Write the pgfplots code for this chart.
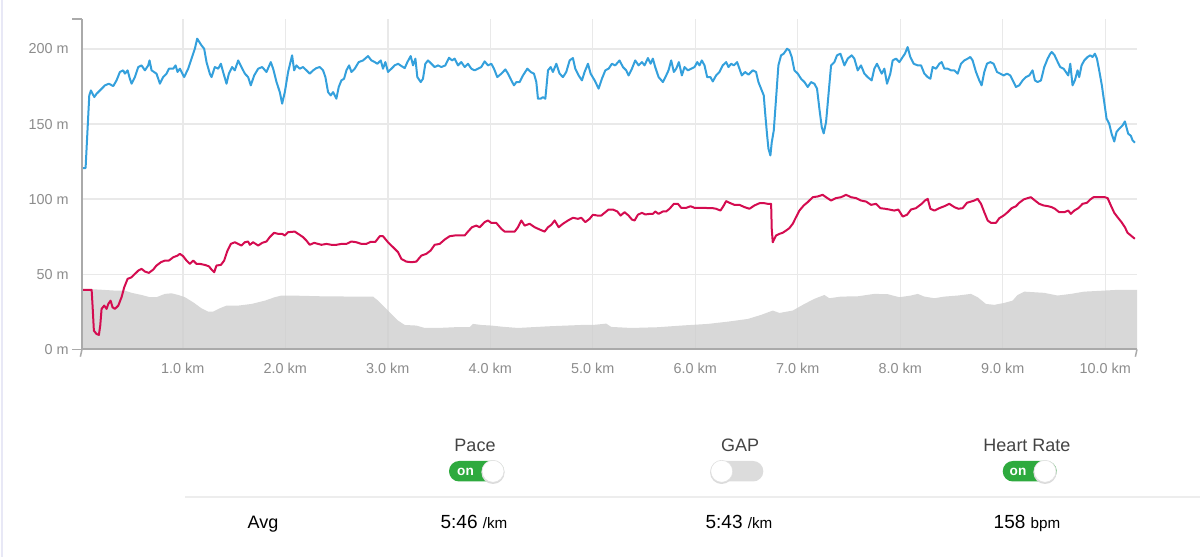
\documentclass[border=0pt]{standalone}
\usepackage{pgfplots}
\usepackage{pgfplotstable}
\pgfplotsset{compat=1.18}
\usepackage{fontspec}
\setmainfont{Liberation Sans}
\definecolor{paceblue}{RGB}{52,160,220}
\definecolor{hrred}{RGB}{212,12,80}
\definecolor{elevgrey}{RGB}{207,207,207}
\definecolor{gridcol}{RGB}{233,233,233}
\definecolor{spinecol}{RGB}{170,170,170}
\definecolor{tickcol}{RGB}{140,140,140}
\definecolor{labcol}{RGB}{68,68,68}
\definecolor{ongreen}{RGB}{46,170,62}
\definecolor{offgrey}{RGB}{220,220,220}
\definecolor{lavender}{RGB}{232,232,246}
\definecolor{sepcol}{RGB}{237,237,237}

\pgfplotstableread{
km v
0.016 120.7
0.051 120.7
0.087 169.1
0.103 172.4
0.136 168.0
0.158 170.2
0.191 172.4
0.240 175.8
0.279 176.9
0.321 175.3
0.353 179.1
0.386 184.7
0.418 185.8
0.435 183.6
0.461 185.8
0.483 180.2
0.500 176.9
0.532 181.3
0.565 188.0
0.597 189.1
0.630 185.8
0.662 189.1
0.675 192.4
0.695 185.8
0.743 183.6
0.776 176.9
0.808 181.3
0.841 183.6
0.864 186.9
0.906 186.9
0.929 189.1
0.948 184.7
0.971 186.9
1.013 181.3
1.052 186.9
1.085 193.6
1.117 200.2
1.140 206.9
1.182 202.4
1.208 200.2
1.231 191.3
1.263 183.6
1.280 181.3
1.312 188.0
1.345 186.9
1.371 190.2
1.393 184.7
1.426 176.9
1.449 183.6
1.481 188.0
1.507 185.8
1.540 192.4
1.572 188.0
1.605 183.6
1.637 181.3
1.663 175.8
1.696 182.4
1.735 186.9
1.774 188.0
1.816 184.7
1.858 191.3
1.881 186.9
1.914 178.0
1.946 171.3
1.969 163.6
1.995 171.3
2.027 184.7
2.066 195.8
2.086 185.8
2.108 189.1
2.141 186.9
2.173 188.0
2.206 185.8
2.238 183.6
2.271 185.8
2.303 187.3
2.336 188.0
2.368 185.8
2.391 181.3
2.417 171.3
2.443 169.1
2.466 171.3
2.498 166.9
2.521 174.7
2.547 179.1
2.573 180.2
2.596 185.8
2.622 189.1
2.645 184.7
2.677 186.9
2.716 191.3
2.758 192.4
2.807 195.3
2.840 192.4
2.872 191.3
2.898 190.2
2.931 192.4
2.953 186.9
2.976 191.3
3.002 184.7
3.035 186.9
3.067 189.1
3.100 190.2
3.132 188.7
3.165 187.3
3.191 191.3
3.223 195.3
3.246 189.1
3.269 193.6
3.288 181.3
3.321 178.0
3.343 180.2
3.366 190.2
3.392 192.4
3.425 190.2
3.457 188.0
3.490 189.1
3.522 188.0
3.561 189.1
3.597 194.2
3.626 192.4
3.652 193.6
3.685 189.1
3.717 191.3
3.750 188.0
3.782 190.2
3.815 186.9
3.847 185.8
3.880 186.9
3.912 188.0
3.945 191.8
3.977 189.1
4.010 190.2
4.036 186.9
4.068 181.3
4.108 183.6
4.147 186.4
4.173 183.6
4.205 179.1
4.231 175.8
4.254 178.0
4.286 178.0
4.319 182.4
4.361 186.9
4.394 184.7
4.426 183.6
4.449 178.0
4.465 166.9
4.491 166.9
4.514 168.0
4.537 166.9
4.563 185.8
4.589 188.0
4.611 184.7
4.644 190.2
4.676 183.6
4.709 181.3
4.741 184.7
4.774 192.4
4.806 194.0
4.829 186.9
4.862 182.4
4.894 179.1
4.920 184.7
4.953 190.2
4.979 183.6
5.018 179.1
5.057 173.6
5.089 180.2
5.122 185.8
5.154 186.9
5.187 190.2
5.219 189.1
5.261 192.4
5.294 188.0
5.326 185.8
5.349 182.4
5.382 186.9
5.414 192.4
5.447 189.1
5.479 191.3
5.505 189.1
5.538 194.0
5.564 190.2
5.586 193.6
5.609 188.0
5.642 181.3
5.684 178.0
5.716 182.4
5.739 185.8
5.765 192.4
5.791 184.7
5.814 186.9
5.840 191.3
5.869 182.4
5.895 188.0
5.928 185.8
5.960 186.9
5.993 188.0
6.019 191.3
6.041 189.1
6.064 192.4
6.090 189.1
6.116 181.3
6.148 181.3
6.171 178.4
6.203 182.4
6.236 184.7
6.268 189.1
6.301 191.3
6.324 188.0
6.350 190.2
6.376 189.1
6.408 191.3
6.431 186.9
6.454 182.4
6.486 184.7
6.519 182.9
6.561 185.8
6.593 184.7
6.616 178.0
6.642 173.6
6.668 169.1
6.681 158.0
6.701 142.4
6.714 133.6
6.733 129.1
6.746 137.8
6.766 145.8
6.788 166.9
6.811 189.1
6.837 195.8
6.863 196.9
6.896 200.2
6.918 199.1
6.941 194.7
6.967 185.8
7.000 183.6
7.032 180.2
7.065 178.0
7.097 174.7
7.130 178.0
7.162 176.9
7.188 173.6
7.211 160.2
7.234 148.0
7.253 143.8
7.276 151.3
7.299 169.1
7.325 189.1
7.357 191.3
7.383 195.8
7.416 196.9
7.455 189.1
7.487 193.6
7.526 195.8
7.552 193.6
7.585 185.8
7.617 189.1
7.650 183.6
7.682 181.3
7.721 179.1
7.747 186.9
7.773 190.2
7.796 186.9
7.819 183.6
7.845 186.9
7.871 176.9
7.903 183.6
7.926 192.4
7.959 193.6
7.991 191.3
8.024 194.7
8.046 196.9
8.072 201.3
8.098 194.7
8.131 190.2
8.170 189.1
8.203 189.1
8.235 183.6
8.268 181.3
8.294 180.2
8.316 188.0
8.349 186.9
8.381 190.2
8.404 191.3
8.430 186.9
8.463 186.9
8.495 185.8
8.528 185.8
8.560 183.6
8.593 190.2
8.625 192.4
8.658 193.6
8.684 194.7
8.706 192.4
8.739 184.7
8.771 179.1
8.794 175.8
8.820 184.7
8.846 190.2
8.879 191.3
8.911 190.2
8.944 184.7
8.976 183.6
9.009 182.4
9.041 183.6
9.074 182.4
9.106 178.0
9.129 174.7
9.161 175.8
9.194 179.1
9.226 181.3
9.259 182.4
9.291 185.8
9.314 179.1
9.340 178.0
9.373 179.1
9.405 188.0
9.438 193.6
9.464 196.9
9.477 198.0
9.503 196.2
9.529 192.4
9.561 188.0
9.594 186.9
9.616 184.7
9.639 182.4
9.659 190.2
9.681 175.8
9.704 179.1
9.730 185.8
9.746 181.3
9.769 189.1
9.795 192.4
9.828 194.7
9.854 195.8
9.876 194.7
9.899 196.9
9.919 193.6
9.941 185.8
9.967 175.8
9.990 164.7
10.013 153.6
10.039 150.2
10.062 143.6
10.088 138.4
10.110 144.7
10.136 146.9
10.169 149.1
10.192 151.8
10.211 146.9
10.224 143.6
10.250 142.2
10.266 139.3
10.289 137.6
}\pacetable

\pgfplotstableread{
km v
0.016 39.6
0.110 39.6
0.119 29.1
0.132 12.4
0.158 10.2
0.181 9.6
0.194 15.8
0.207 26.9
0.233 29.1
0.256 26.9
0.272 30.2
0.295 32.4
0.314 28.0
0.337 26.9
0.370 29.1
0.402 34.7
0.428 41.3
0.461 46.9
0.500 48.0
0.532 50.2
0.565 52.4
0.597 53.6
0.630 51.8
0.669 50.9
0.711 53.1
0.743 55.8
0.786 58.0
0.825 59.1
0.864 59.1
0.906 61.3
0.948 62.4
0.971 63.6
1.003 62.0
1.036 59.1
1.068 56.9
1.101 59.1
1.133 56.9
1.166 56.9
1.215 56.2
1.254 55.3
1.280 53.1
1.306 51.3
1.328 55.8
1.371 56.2
1.403 59.1
1.436 65.8
1.468 70.2
1.507 71.3
1.540 70.2
1.572 69.1
1.605 71.3
1.637 71.8
1.653 69.6
1.686 71.3
1.735 69.1
1.774 70.9
1.816 71.8
1.848 74.7
1.890 77.6
1.930 76.9
1.969 76.9
1.995 75.8
2.027 78.0
2.092 78.4
2.141 76.2
2.173 74.7
2.206 72.4
2.238 69.6
2.281 70.9
2.320 70.2
2.352 69.6
2.401 70.2
2.450 69.6
2.498 69.6
2.547 70.2
2.596 70.2
2.645 71.8
2.693 71.3
2.742 70.2
2.791 70.2
2.833 71.6
2.879 71.6
2.921 75.3
2.953 75.3
3.002 71.3
3.051 68.0
3.100 64.7
3.132 60.2
3.181 58.4
3.230 58.0
3.278 58.4
3.327 62.4
3.376 63.6
3.418 65.8
3.457 69.6
3.506 70.2
3.555 73.1
3.603 75.3
3.652 75.8
3.701 75.8
3.750 75.8
3.782 78.4
3.821 81.3
3.863 82.4
3.896 81.3
3.945 84.7
3.977 85.8
4.010 84.2
4.058 84.2
4.108 80.2
4.140 78.4
4.189 78.4
4.238 78.4
4.270 81.3
4.303 85.8
4.335 82.4
4.384 83.6
4.433 81.3
4.481 79.8
4.530 78.4
4.563 81.3
4.595 82.9
4.628 85.8
4.667 81.3
4.709 83.6
4.758 85.8
4.806 87.6
4.855 86.9
4.888 87.6
4.927 84.7
4.969 86.9
5.001 89.6
5.044 89.1
5.083 89.1
5.115 90.9
5.154 93.1
5.196 93.1
5.239 91.8
5.271 89.1
5.310 91.3
5.349 89.1
5.382 86.4
5.408 85.8
5.440 89.6
5.479 90.9
5.512 89.8
5.554 90.2
5.586 90.2
5.609 91.8
5.642 90.2
5.684 91.8
5.716 91.8
5.749 93.6
5.791 96.9
5.830 96.9
5.863 94.2
5.911 94.2
5.954 95.3
5.993 94.2
6.041 94.2
6.090 94.2
6.139 94.0
6.171 94.0
6.203 93.6
6.246 92.4
6.278 95.8
6.301 98.7
6.333 97.6
6.382 96.2
6.431 96.2
6.480 94.7
6.528 93.6
6.577 95.8
6.626 97.3
6.675 97.3
6.707 96.9
6.740 96.9
6.746 80.2
6.756 71.3
6.788 75.8
6.821 76.9
6.853 77.6
6.886 79.1
6.918 80.7
6.951 83.6
6.983 88.0
7.016 92.4
7.058 95.8
7.097 98.0
7.146 101.3
7.195 101.8
7.243 102.9
7.276 101.3
7.325 99.1
7.373 100.7
7.422 101.3
7.471 102.9
7.520 101.3
7.569 100.7
7.617 99.1
7.666 98.4
7.715 96.2
7.763 96.9
7.806 94.0
7.851 93.6
7.893 93.1
7.942 92.4
7.981 93.1
8.024 88.4
8.066 89.6
8.105 93.1
8.153 94.0
8.209 96.9
8.241 99.1
8.268 100.2
8.294 93.6
8.333 92.4
8.381 94.0
8.430 95.3
8.479 96.9
8.528 94.7
8.567 93.6
8.609 94.0
8.651 97.6
8.690 98.4
8.723 99.1
8.755 100.2
8.788 96.9
8.820 91.3
8.853 85.8
8.885 84.2
8.934 84.2
8.966 87.3
9.009 89.1
9.048 91.3
9.087 94.0
9.129 95.3
9.161 97.6
9.204 99.8
9.243 100.7
9.275 101.3
9.314 99.1
9.356 96.9
9.399 95.8
9.444 95.3
9.477 94.7
9.509 93.6
9.551 91.3
9.600 91.3
9.639 92.4
9.665 90.2
9.698 92.4
9.737 94.0
9.779 96.9
9.821 97.6
9.854 99.8
9.886 101.3
9.925 101.3
9.964 101.3
9.997 101.3
10.023 100.7
10.055 95.8
10.088 90.9
10.120 88.0
10.159 84.7
10.192 81.3
10.218 77.6
10.250 75.8
10.289 73.6
}\hrtable

\pgfplotstableread{
km v
0.016 40.2
0.175 39.8
0.337 39.1
0.435 39.1
0.500 37.6
0.597 36.2
0.678 34.7
0.743 34.7
0.825 36.9
0.890 37.3
0.955 36.2
1.020 34.7
1.101 31.3
1.182 27.3
1.247 25.1
1.296 25.1
1.361 27.3
1.426 29.1
1.540 29.1
1.670 30.2
1.800 32.4
1.897 34.7
1.962 35.8
2.060 35.8
2.352 35.3
2.677 35.1
2.856 35.1
2.905 32.4
3.002 25.8
3.100 19.1
3.165 16.2
3.278 15.8
3.360 14.2
3.490 14.2
3.652 14.7
3.798 14.7
3.831 16.9
3.912 16.2
4.010 15.8
4.123 15.0
4.270 14.2
4.563 15.3
4.888 16.2
5.001 16.2
5.131 17.1
5.180 14.9
5.375 14.2
5.635 14.7
5.863 15.8
6.122 16.9
6.317 18.4
6.512 20.2
6.642 22.9
6.756 25.8
6.821 24.2
6.951 25.8
7.065 30.2
7.162 33.6
7.260 36.2
7.308 34.0
7.422 35.1
7.585 35.3
7.747 36.9
7.877 36.7
7.991 34.7
8.105 35.8
8.170 36.9
8.235 35.1
8.333 34.0
8.430 35.1
8.560 35.8
8.690 36.9
8.755 34.7
8.836 30.2
8.918 29.6
9.015 30.9
9.096 32.4
9.145 36.2
9.210 38.4
9.405 37.6
9.535 35.8
9.665 36.9
9.795 38.4
9.990 39.1
10.120 39.6
10.310 39.6
}\elevtable

\begin{document}
\begin{tikzpicture}[x=0.5pt,y=0.5pt]
\useasboundingbox (0,0) rectangle (1200,557);
\draw[lavender, line width=0.8pt] (2,0) -- (2,557);
\begin{axis}[
  at={(41pt,103.85pt)}, anchor=south west,
  width=527.5pt, height=165.15pt, scale only axis,
  xmin=0.016, xmax=10.31, ymin=0, ymax=220,
  clip mode=individual,
  axis line style={draw=none},
  major tick style={draw=none},
  xtick={1,2,3,4,5,6,7,8,9,10},
  xticklabels={1.0 km,2.0 km,3.0 km,4.0 km,5.0 km,6.0 km,7.0 km,8.0 km,9.0 km,10.0 km},
  ytick={0,50,100,150,200},
  yticklabels={0 m,50 m,100 m,150 m,200 m},
  tick label style={font=\fontsize{7.2}{8}\selectfont, text=tickcol},
  xticklabel style={anchor=north, yshift=-3.3pt},
  yticklabel style={anchor=east, xshift=-3.2pt},
  grid=major,
  major grid style={draw=gridcol, line width=0.7pt},
]
\addplot[draw=none, fill=elevgrey, fill opacity=0.82] table[x=km,y=v] {\elevtable} \closedcycle;
\addplot[paceblue, line width=1pt, line join=round] table[x=km,y=v] {\pacetable};
\addplot[hrred, line width=1pt, line join=round] table[x=km,y=v] {\hrtable};
\draw[spinecol, line width=0.75pt] (rel axis cs:0,0) -- (rel axis cs:0,1);
\draw[spinecol, line width=0.75pt] (rel axis cs:0,1) -- ++(-4pt,0);
\draw[spinecol, line width=0.75pt] (rel axis cs:0,0) -- ++(-4pt,0);
\draw[spinecol, line width=1pt] (rel axis cs:0,0) -- (rel axis cs:1,0);
\draw[spinecol, line width=0.75pt] (rel axis cs:0,0) -- ++(0,-3.7pt);
\draw[spinecol, line width=0.75pt] (rel axis cs:1,0) -- ++(0,-3.7pt);
\end{axis}
% separator
\draw[sepcol, line width=1pt] (185,60.3) -- (1200,60.3);
% labels
\node[anchor=base, text=labcol, font=\fontsize{9}{10}\selectfont, inner sep=0] at (475,105.3) {Pace};
\node[anchor=base, text=labcol, font=\fontsize{9}{10}\selectfont, inner sep=0] at (740,105.3) {GAP};
\node[anchor=base, text=labcol, font=\fontsize{9}{10}\selectfont, inner sep=0] at (1027,105.3) {Heart Rate};
% toggles
\fill[ongreen, rounded corners=5.1pt] (449,75.5) rectangle (504,96);
\fill[black!14] (493,84.6) circle[radius=11.6];
\filldraw[fill=white, draw=black!12, line width=0.3pt] (493,85.7) circle[radius=11];
\node[text=white, font=\bfseries\fontsize{6.8}{8}\selectfont, inner sep=0] at (465.5,85.5) {on};
\fill[offgrey, rounded corners=5.1pt] (711.7,75.5) rectangle (763.3,96);
\fill[black!14] (721.7,84.6) circle[radius=11.6];
\filldraw[fill=white, draw=black!12, line width=0.3pt] (721.7,85.7) circle[radius=11];
\fill[ongreen, rounded corners=5.1pt] (1002.7,75.5) rectangle (1056.7,96);
\fill[black!14] (1045,84.6) circle[radius=11.6];
\filldraw[fill=white, draw=black!12, line width=0.3pt] (1045,85.7) circle[radius=11];
\node[text=white, font=\bfseries\fontsize{6.8}{8}\selectfont, inner sep=0] at (1018,85.5) {on};
% averages
\node[anchor=base, font=\fontsize{9}{10}\selectfont, inner sep=0] at (263,28.7) {Avg};
\node[anchor=base, inner sep=0] at (474,28.7) {\fontsize{9.5}{10}\selectfont 5:46 \fontsize{7.6}{9}\selectfont/km};
\node[anchor=base, inner sep=0] at (739,28.7) {\fontsize{9.5}{10}\selectfont 5:43 \fontsize{7.6}{9}\selectfont/km};
\node[anchor=base, inner sep=0] at (1027,28.7) {\fontsize{9.5}{10}\selectfont 158 \fontsize{7.6}{9}\selectfont bpm};
\end{tikzpicture}
\end{document}
